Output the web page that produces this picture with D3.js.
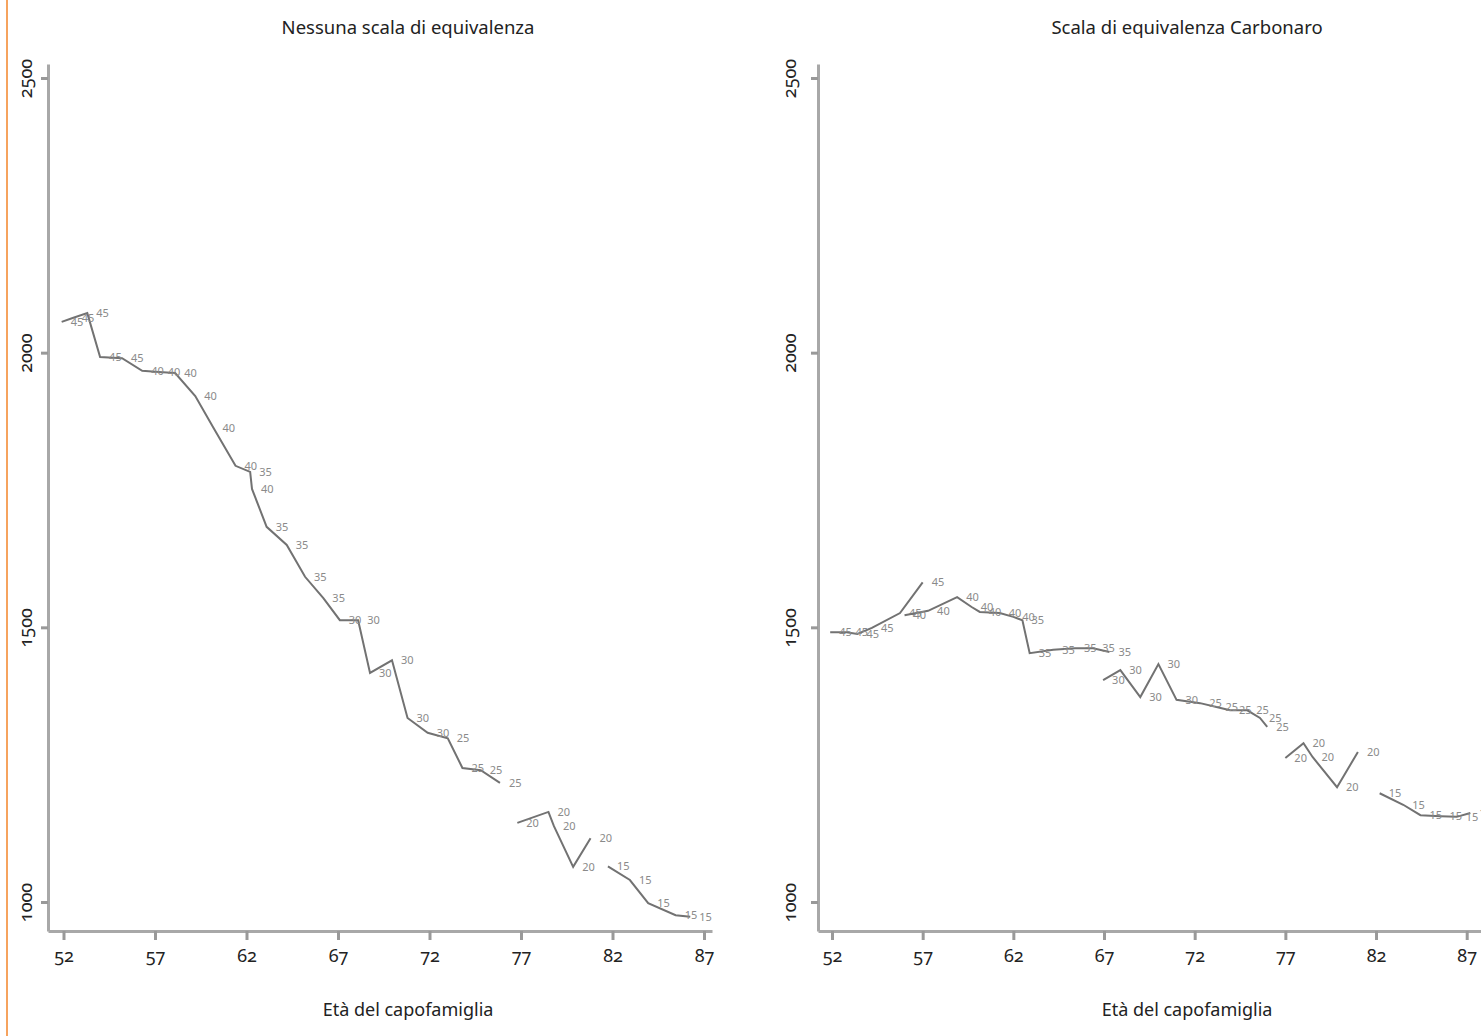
<!DOCTYPE html>
<html>
<head>
<meta charset="utf-8">
<script src="https://cdn.jsdelivr.net/npm/d3@7"></script>
<style>
  body { margin: 0; background: #fff; }
  text { font-family: "Noto Sans", "Open Sans", sans-serif; }
  .tick text { font-variant-numeric: oldstyle-nums; font-feature-settings: "onum" 1; }
</style>
</head>
<body>
<svg id="chart" width="1481" height="1036"></svg>
<script>
// tick values
var xTicks = [52, 57, 62, 67, 72, 77, 82, 87];
var yTicks = [1000, 1500, 2000, 2500];

// Nessuna scala di equivalenza: [età, spesa, coorte]
var nessuna1 = [
  [51.9, 2056, "45"], [52.5, 2063, "45"], [53.3, 2072, "45"], [54.0, 1992, "45"], [55.2, 1990, "45"],
  [56.3, 1967, "40"], [57.2, 1965, "40"], [58.1, 1963, "40"], [59.2, 1921, "40"], [60.2, 1863, "40"],
  [61.4, 1794, "40"], [62.2, 1783, "35"], [62.3, 1752, "40"], [63.1, 1683, "35"], [64.2, 1650, "35"],
  [65.2, 1592, "35"], [66.2, 1553, "35"], [67.1, 1513, "30"], [68.1, 1513, "30"], [68.75, 1417, "30"],
  [69.95, 1440, "30"], [70.8, 1335, "30"], [71.9, 1308, "30"], [73.0, 1298, "25"], [73.8, 1244, "25"],
  [74.8, 1240, "25"], [75.85, 1217, "25"]
];
var nessuna2 = [
  [76.8, 1144, "20"], [78.5, 1164, "20"], [78.8, 1138, "20"], [79.85, 1064, "20"], [80.8, 1116, "20"]
];
var nessuna3 = [
  [81.75, 1065, "15"], [82.95, 1040, "15"], [83.95, 998, "15"], [85.45, 976, "15"], [86.25, 973, "15"]
];

// Scala di equivalenza Carbonaro
var carbonaro1 = [
  [51.9, 1491, "45"], [52.8, 1491, "45"], [53.4, 1488, "45"], [54.2, 1499, "45"], [55.75, 1526, "45"],
  [57.0, 1582, "45"]
];
var carbonaro2 = [
  [56.0, 1522, "40"], [57.3, 1530, "40"], [58.9, 1555, "40"], [59.7, 1537, "40"], [60.15, 1528, "40"],
  [61.25, 1526, "40"], [62.0, 1519, "40"], [62.5, 1513, "35"], [62.9, 1453, "35"], [64.2, 1459, "35"],
  [65.4, 1462, "35"], [66.4, 1462, "35"], [67.3, 1455, "35"]
];
var carbonaro3 = [
  [66.95, 1404, "30"], [67.9, 1422, "30"], [69.0, 1373, "30"], [70.0, 1433, "30"], [71.0, 1368, "30"],
  [72.3, 1362, "25"], [73.2, 1355, "25"], [73.95, 1349, "25"], [74.9, 1349, "25"], [75.6, 1335, "25"],
  [76.0, 1319, "25"]
];
var carbonaro4 = [
  [77.0, 1262, "20"], [78.0, 1289, "20"], [78.5, 1264, "20"], [79.85, 1209, "20"], [81.0, 1273, "20"]
];
var carbonaro5 = [
  [82.2, 1198, "15"], [83.5, 1177, "15"], [84.45, 1158, "15"], [85.55, 1156, "15"], [86.45, 1155, "15"],
  [87.2, 1162, "15"]
];

var svg = d3.select('#chart');

// orange page rule
svg.append('line')
  .attr('x1', 7).attr('x2', 7).attr('y1', 0).attr('y2', 1036)
  .attr('stroke', '#f6a35e').attr('stroke-width', 2);

var panels = [
  { title: 'Nessuna scala di equivalenza', left: 48, x52: 63.5, x87: 704, titleX: 408, labelGap: 16,
    segs: [nessuna1, nessuna2, nessuna3] },
  { title: 'Scala di equivalenza Carbonaro', left: 818, x52: 832, x87: 1466.7, titleX: 1187, labelGap: 22,
    segs: [carbonaro1, carbonaro2, carbonaro3, carbonaro4, carbonaro5] }
];

var plotTop = 64, plotBottom = 931, plotW = 664;

panels.forEach(function (p) {
  var x = d3.scaleLinear().domain([52, 87]).range([p.x52, p.x87]);
  x.domain([x.invert(p.left), x.invert(p.left + plotW)]).range([p.left, p.left + plotW]);
  var y = d3.scaleLinear().domain([1000, 2500]).range([902, 78]);
  y.domain([y.invert(plotBottom), y.invert(plotTop)]).range([plotBottom, plotTop]);

  var g = svg.append('g');

  // title
  g.append('text')
    .attr('x', p.titleX).attr('y', 34)
    .attr('text-anchor', 'middle')
    .attr('font-size', 18.5).attr('fill', '#222')
    .text(p.title);

  // x axis title
  g.append('text')
    .attr('x', p.titleX).attr('y', 1016)
    .attr('text-anchor', 'middle')
    .attr('font-size', 18).attr('fill', '#222')
    .text('Età del capofamiglia');

  // axes
  var xAxis = g.append('g')
    .attr('transform', 'translate(0,' + plotBottom + ')')
    .call(d3.axisBottom(x).tickValues(xTicks).tickSize(9).tickSizeOuter(0));
  xAxis.selectAll('.tick text')
    .attr('dy', null).attr('y', 31)
    .attr('font-size', 18).attr('fill', '#222');

  var yAxis = g.append('g')
    .attr('transform', 'translate(' + p.left + ',0)')
    .call(d3.axisLeft(y).tickValues(yTicks).tickFormat(d3.format('d')).tickSize(7).tickSizeOuter(0));
  yAxis.selectAll('.tick text')
    .attr('transform', 'rotate(-90)')
    .attr('x', 0).attr('y', -p.labelGap).attr('dy', null)
    .attr('text-anchor', 'middle')
    .attr('font-size', 18).attr('fill', '#222');

  [xAxis, yAxis].forEach(function (a) {
    a.select('.domain').attr('stroke', '#a8a8a8').attr('stroke-width', 3);
    a.selectAll('.tick line').attr('stroke', '#999').attr('stroke-width', 3);
  });

  // cohort lines
  var line = d3.line()
    .x(function (d) { return x(d[0]); })
    .y(function (d) { return y(d[1]); });

  p.segs.forEach(function (seg) {
    g.append('path')
      .datum(seg)
      .attr('d', line)
      .attr('fill', 'none')
      .attr('stroke', '#727272')
      .attr('stroke-width', 2);

    g.selectAll(null)
      .data(seg)
      .enter().append('text')
      .attr('x', function (d) { return x(d[0]) + 9; })
      .attr('y', function (d) { return y(d[1]); })
      .attr('dy', '0.35em')
      .attr('font-size', 11)
      .attr('fill', '#8a8a8a')
      .text(function (d) { return d[2]; });
  });
});
</script>
</body>
</html>
